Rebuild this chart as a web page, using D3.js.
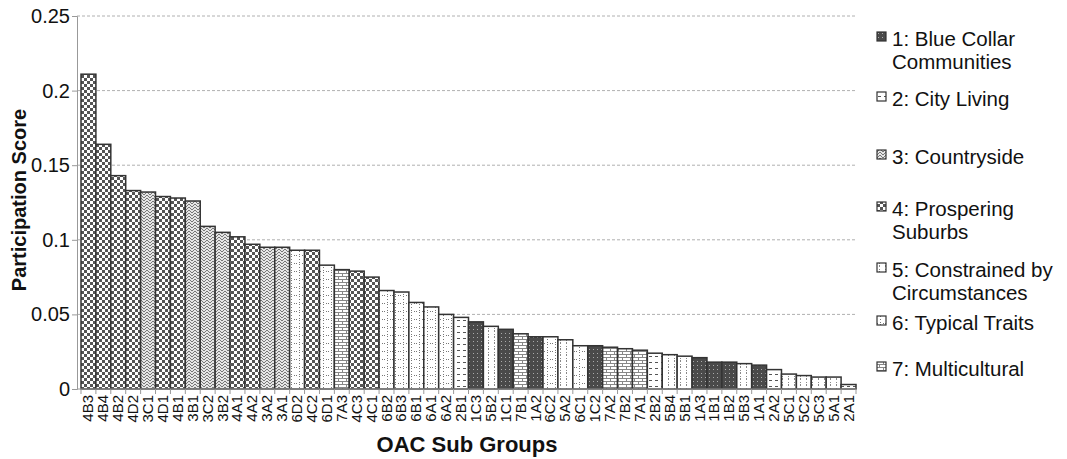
<!DOCTYPE html>
<html>
<head>
<meta charset="utf-8">
<script src="https://cdn.jsdelivr.net/npm/d3@7"></script>
<style>
  body { margin: 0; background: #fff; }
  svg { font-family: "Liberation Sans", Arial, sans-serif; }
</style>
</head>
<body>
<svg id="chart" width="1067" height="459"></svg>
<script>
// data
const subGroups = ["4B3","4B4","4B2","4D2","3C1","4D1","4B1","3B1","3C2","3B2","4A1","4A2","3A2","3A1","6D2","4C2","6D1","7A3","4C3","4C1","6B2","6B3","6B1","6A1","6A2","2B1","1C3","5B2","1C1","7B1","1A2","6C2","5A2","6C1","1C2","7A2","7B2","7A1","2B2","5B4","5B1","1A3","1B1","1B2","5B3","1A1","2A2","5C1","5C2","5C3","5A1","2A1"];
const scores = [0.211,0.164,0.143,0.133,0.132,0.129,0.128,0.126,0.109,0.105,0.102,0.097,0.095,0.095,0.093,0.093,0.083,0.080,0.079,0.075,0.066,0.065,0.058,0.055,0.050,0.048,0.045,0.042,0.040,0.037,0.035,0.035,0.033,0.029,0.029,0.028,0.027,0.026,0.024,0.023,0.022,0.021,0.018,0.018,0.017,0.016,0.013,0.010,0.009,0.008,0.008,0.003];
const groupNames = ["1: Blue Collar Communities","2: City Living","3: Countryside","4: Prospering Suburbs","5: Constrained by Circumstances","6: Typical Traits","7: Multicultural"];
const yTicks = [0, 0.05, 0.1, 0.15, 0.2, 0.25];

const svg = d3.select("#chart");
const defs = svg.append("defs");

// fill patterns, one per group
function pattern(id, w, h, draw) {
  const p = defs.append("pattern").attr("id", id)
    .attr("patternUnits", "userSpaceOnUse").attr("width", w).attr("height", h);
  draw(p);
}
pattern("g1", 4, 4, p => {
  p.append("rect").attr("width", 4).attr("height", 4).attr("fill", "#4a4a4a");
  p.append("rect").attr("x", 1).attr("y", 1).attr("width", 1).attr("height", 1).attr("fill", "#aaa");
});
pattern("g2", 6, 6, p => {
  p.append("rect").attr("width", 6).attr("height", 6).attr("fill", "#fff");
  p.append("rect").attr("x", 1).attr("y", 2).attr("width", 3).attr("height", 1).attr("fill", "#555");
});
pattern("g3", 6, 6, p => {
  p.append("rect").attr("width", 6).attr("height", 6).attr("fill", "#e6e6e6");
  p.append("path").attr("d", "M0,3 L3,0 L6,3 M0,6 L3,3 L6,6").attr("stroke", "#777").attr("fill", "none").attr("stroke-width", 1);
});
pattern("g4", 6, 6, p => {
  p.append("rect").attr("width", 6).attr("height", 6).attr("fill", "#fff");
  p.append("rect").attr("width", 3).attr("height", 3).attr("fill", "#555");
  p.append("rect").attr("x", 3).attr("y", 3).attr("width", 3).attr("height", 3).attr("fill", "#555");
});
pattern("g5", 6, 6, p => {
  p.append("rect").attr("width", 6).attr("height", 6).attr("fill", "#fff");
  p.append("rect").attr("x", 2).attr("y", 0).attr("width", 1).attr("height", 2).attr("fill", "#888");
  p.append("rect").attr("x", 2).attr("y", 4).attr("width", 1).attr("height", 1).attr("fill", "#888");
});
pattern("g6", 8, 8, p => {
  p.append("rect").attr("width", 8).attr("height", 8).attr("fill", "#fff");
  [[3, 0], [3, 3], [3, 6], [0, 7], [6, 7]].forEach(([a, b]) =>
    p.append("rect").attr("x", a).attr("y", b).attr("width", 1).attr("height", 1).attr("fill", "#777"));
});
pattern("g7", 8, 6, p => {
  p.append("rect").attr("width", 8).attr("height", 6).attr("fill", "#fff");
  p.append("path").attr("d", "M0,0.5 H8 M0,3.5 H8 M2.5,0 V3 M6.5,3 V6").attr("stroke", "#888").attr("stroke-width", 1).attr("fill", "none");
});

// scales
const x = d3.scaleBand().domain(subGroups).range([81, 856]).padding(0);
const y = d3.scaleLinear().domain([0, 0.25]).range([389, 16]);

// gridlines
svg.append("g").selectAll("line").data(yTicks.filter(d => d > 0)).enter().append("line")
  .attr("x1", 77).attr("x2", 856)
  .attr("y1", d => y(d)).attr("y2", d => y(d))
  .attr("stroke", "#b0b0b0").attr("stroke-dasharray", "3,2");

// bars
svg.append("g").selectAll("rect").data(subGroups).enter().append("rect")
  .attr("x", d => x(d))
  .attr("y", (d, i) => y(scores[i]))
  .attr("width", x.bandwidth())
  .attr("height", (d, i) => y(0) - y(scores[i]))
  .attr("fill", d => `url(#g${d[0]})`)
  .attr("stroke", "#333").attr("stroke-width", 1.5);

// y axis
const axisY = d3.axisLeft(y).tickValues(yTicks).tickSize(5).tickFormat(d => d === 0 ? "0" : String(+d.toFixed(2)));
const gy = svg.append("g").attr("transform", "translate(77,0)").call(axisY);
gy.select(".domain").attr("stroke", "#999");
gy.selectAll(".tick line").attr("stroke", "#999");
gy.selectAll(".tick text").attr("font-size", 20).attr("fill", "#111")
  .attr("font-family", "Liberation Sans, Arial, sans-serif").attr("x", -7);

// x axis
svg.append("line").attr("x1", 77).attr("x2", 856).attr("y1", y(0)).attr("y2", y(0)).attr("stroke", "#999");
const bounds = subGroups.map(d => x(d)).concat([x.range()[1]]);
svg.append("g").selectAll("line").data(bounds).enter().append("line")
  .attr("x1", d => d).attr("x2", d => d).attr("y1", y(0)).attr("y2", y(0) + 5).attr("stroke", "#999");
svg.append("g").selectAll("text").data(subGroups).enter().append("text")
  .attr("transform", d => `translate(${x(d) + x.bandwidth() / 2 + 5},395) rotate(-90)`)
  .attr("text-anchor", "end").attr("font-size", 15).attr("fill", "#111")
  .text(d => d);

// axis titles
svg.append("text").attr("transform", "translate(26,200) rotate(-90)")
  .attr("text-anchor", "middle").attr("font-size", 20).attr("font-weight", "bold").attr("fill", "#111")
  .text("Participation Score");
svg.append("text").attr("x", 467).attr("y", 452)
  .attr("text-anchor", "middle").attr("font-size", 22).attr("font-weight", "bold").attr("fill", "#111")
  .text("OAC Sub Groups");

// legend
const legendY = [40, 100, 158, 210, 271, 324, 370];
const lg = svg.append("g").selectAll("g").data(groupNames).enter().append("g")
  .attr("transform", (d, i) => `translate(877,${legendY[i]})`);
lg.append("rect").attr("x", 0).attr("y", -8).attr("width", 9).attr("height", 9)
  .attr("fill", (d, i) => `url(#g${i + 1})`).attr("stroke", "#333").attr("stroke-width", 1.2);
lg.each(function(d) {
  const t = d3.select(this).append("text").attr("x", 15).attr("y", 0)
    .attr("font-size", 20.5).attr("fill", "#111");
  let lines = [d];
  if (d.startsWith("1:")) lines = ["1: Blue Collar", "Communities"];
  if (d.startsWith("4:")) lines = ["4: Prospering", "Suburbs"];
  if (d.startsWith("5:")) lines = ["5: Constrained by", "Circumstances"];
  lines.forEach((l, k) => t.append("tspan").attr("x", 15).attr("dy", k === 0 ? 6 : 23).text(l));
});
</script>
</body>
</html>
